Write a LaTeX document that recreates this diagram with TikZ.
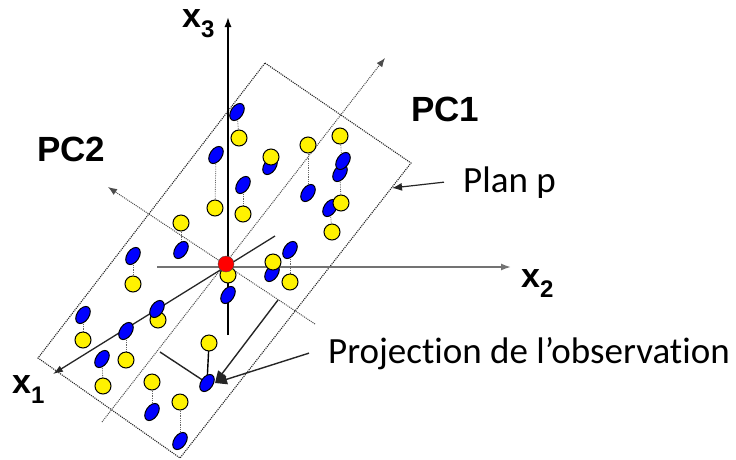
\documentclass[tikz,border=0pt]{standalone}
\usepackage{fontspec}
\setmainfont{Liberation Sans}
\newfontfamily\notefont[Ligatures=NoCommon]{Carlito}
\usetikzlibrary{arrows.meta, positioning, calc}

\begin{document}
\begin{tikzpicture}[x=1pt, y=-1pt,
    yelpt/.style={draw=black, line width=1pt, fill=yellow},
    blupt/.style={draw=black, line width=1pt, fill=blue},
    pairlink/.style={densely dotted, line width=0.8pt, black!60},
    axisline/.style={line width=1.6pt, -{Latex[length=10pt, width=7pt]}},
    pcline/.style={densely dotted, line width=1pt, black!70, -{Latex[length=9pt, width=7pt]}},
    projarrow/.style={line width=1.4pt, black!85, -{Triangle[length=12pt, width=10pt]}},
    axlabel/.style={font=\bfseries\fontsize{34}{34}\selectfont, inner sep=0pt, anchor=base west},
    pclabel/.style={font=\bfseries\fontsize{35}{35}\selectfont, inner sep=0pt, anchor=base west},
    note/.style={font=\notefont\fontsize{37}{37}\selectfont, inner xsep=19pt, inner ysep=0pt, anchor=base west}]
    \useasboundingbox (0,0) rectangle (736,459);

    % Plane p (dotted rectangle)
    \draw[densely dotted, line width=1.1pt, black!85] (265,63) -- (411,163) -- (180,458) -- (38,358) -- cycle;

    % Principal components
    \coordinate (pc1from) at (102,422);
    \coordinate (pc1to) at (385,58);
    \coordinate (pc2from) at (315,324);
    \coordinate (pc2to) at (108,187);
    \draw[pcline] (pc1from) -- (pc1to);
    \draw[pcline] (pc2from) -- (pc2to);

    % Original axes
    \coordinate (x1back) at (275,236);
    \coordinate (x1tip) at (53,374);
    \coordinate (x2back) at (157,267);
    \coordinate (x2tip) at (511,267);
    \coordinate (x3back) at (228,335);
    \coordinate (x3tip) at (228,17);
    \draw[axisline, black!55] (x2back) -- (x2tip);
    \draw[axisline] (x3back) -- (x3tip);
    \draw[axisline, black!85, line width=1.3pt] (x1back) -- (x1tip);

    % Labels
    \node[axlabel] (x1lbl) at (12,393) {x\raisebox{-10pt}{\fontsize{24}{24}\selectfont 1}};
    \node[axlabel] (x2lbl) at (521,287) {x\raisebox{-10pt}{\fontsize{24}{24}\selectfont 2}};
    \node[axlabel] (x3lbl) at (182,27) {x\raisebox{-10pt}{\fontsize{24}{24}\selectfont 3}};
    \node[pclabel] (pc1lbl) at (411,121) {PC1};
    \node[pclabel] (pc2lbl) at (37,161) {PC2};
    \node[note] (planp) at (444,192) {Plan p};
    \node[note] (projtxt) at (309,363) {Projection de l’observation};

    % Projection of one observation
    \coordinate (pc1foot) at (278,300);
    \coordinate (pc2foot) at (160,352);
    \coordinate (obs) at (209,343);
    \coordinate (obsproj) at (207,383);
    \coordinate (projtip) at (215,383);
    \coordinate (planedge) at (392,188);
    \draw[line width=1.4pt, black!85] (pc2foot) -- (obsproj);
    \draw[line width=1.4pt] (obs) -- (obsproj);

    % Dotted links between observations and projections
    \foreach \xa/\ya/\xb/\yb in {237/112/239/138, 216/155/215/208, 243/185/243/214,
        308/145/308/193, 340/136/342/161, 340/173/341/203, 330/208/332/232,
        181/223/181/250, 133/256/133/284, 83/315/83/340, 126/331/126/360,
        102/359/103/386, 152/382/152/412, 180/402/180/441, 290/250/290/282}
        \draw[pairlink] (\xa,\ya) -- (\xb,\yb);

    % Points hidden behind others
    \draw[yelpt] (158,320) circle [radius=8];
    \foreach \px/\py in {270/166, 330/208, 272/273}
        \draw[blupt, shift={(\px,\py)}, rotate=56] (0,0) ellipse [x radius=9.5, y radius=6];

    % Projections (blue)
    \foreach \px/\py in {237/112, 216/155, 243/185, 308/193, 340/173, 343/161,
        181/250, 133/256, 83/315, 126/331, 157/309, 102/359, 152/412, 180/441,
        207/383, 290/250, 228/295}
        \draw[blupt, shift={(\px,\py)}, rotate=56] (0,0) ellipse [x radius=9.5, y radius=6];

    % Observations (yellow)
    \foreach \px/\py in {239/138, 215/208, 243/214, 271/157, 308/145, 340/136,
        341/203, 332/232, 181/223, 133/284, 83/340, 126/360, 103/386, 152/382,
        180/402, 209/343, 273/262, 290/282, 228/275}
        \draw[yelpt] (\px,\py) circle [radius=8];

    % Centre
    \node[circle, draw=black!70, fill=red, minimum size=16pt, inner sep=0pt] (centre) at (226,264) {};

    % Arrows to the notes
    \draw[projarrow] (pc1foot) -- (projtip);
    \draw[projarrow] (projtxt.west) -- (projtip);
    \draw[line width=1.2pt, black!85, -{Latex[length=10pt, width=8pt]}] (planp.west) -- (planedge);
\end{tikzpicture}
\end{document}
